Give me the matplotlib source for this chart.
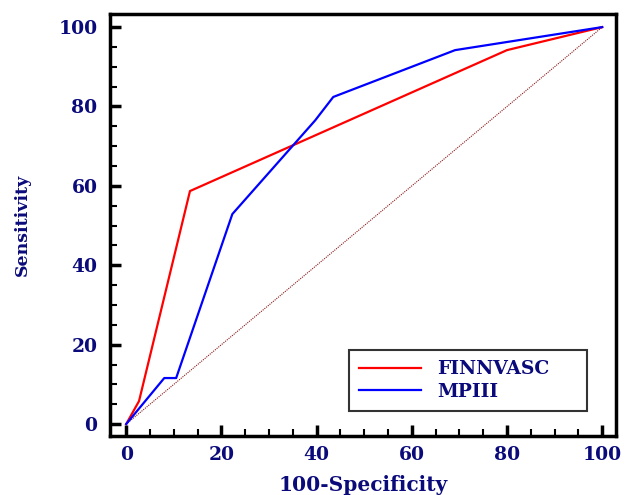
import matplotlib
matplotlib.use("Agg")
import matplotlib.pyplot as plt
from matplotlib.ticker import MultipleLocator

fin_x = [0, 2.7, 13.4, 80.0, 100]
fin_y = [0, 5.8, 58.7, 94.2, 100]
mp_x = [0, 8.0, 10.5, 22.3, 39.7, 43.5, 69.1, 100]
mp_y = [0, 11.6, 11.6, 52.9, 76.5, 82.4, 94.2, 100]
ref_x = [0, 100]
ref_y = [0, 100]
xticks = [0, 20, 40, 60, 80, 100]
yticks = [0, 20, 40, 60, 80, 100]

navy = "#0a0a7a"
fig = plt.figure(figsize=(6.25, 4.95), dpi=100)
ax = fig.add_axes([110/625, 1-436/495, (616-110)/625, (436-14)/495])

ax.plot(ref_x, ref_y, color="#8b1a1a", lw=0.8, ls=(0, (1, 1)))
ax.plot(fin_x, fin_y, color="#ff0000", lw=1.6, label="FINNVASC")
ax.plot(mp_x, mp_y, color="#0000ff", lw=1.6, label="MPIII")

ax.set_xlim(-3.4, 102.9)
ax.set_ylim(-3.0, 103.3)
ax.set_xticks(xticks)
ax.set_yticks(yticks)
ax.xaxis.set_minor_locator(MultipleLocator(5))
ax.yaxis.set_minor_locator(MultipleLocator(5))
ax.tick_params(which="major", direction="in", length=8, width=2.5, color="black")
ax.tick_params(which="minor", direction="in", length=5, width=1.5, color="black")
for s in ax.spines.values():
    s.set_linewidth(2.5)

for lab in ax.get_xticklabels() + ax.get_yticklabels():
    lab.set_fontfamily("DejaVu Serif")
    lab.set_fontweight("bold")
    lab.set_fontsize(13.5)
    lab.set_color(navy)
ax.tick_params(axis="x", pad=7)
ax.tick_params(axis="y", pad=9)

ax.set_xlabel("100-Specificity", family="DejaVu Serif", weight="bold", size=14.5,
              color=navy, labelpad=8)
ax.set_ylabel("Sensitivity", family="DejaVu Serif", weight="bold", size=12.5,
              color=navy, labelpad=20)

leg = ax.legend(loc="lower left", bbox_to_anchor=(0.4723, 0.059, 0.4704, 0.0), mode="expand",
                frameon=True, fancybox=False,
                edgecolor="black", handlelength=3.3, borderpad=0.55, labelspacing=0.25,
                prop=dict(family="DejaVu Serif", weight="bold", size=13.5), handletextpad=0.85,
                borderaxespad=0)
leg.get_frame().set_linewidth(1.5)
for t in leg.get_texts():
    t.set_color(navy)

fig.savefig("out.png", dpi=100)
